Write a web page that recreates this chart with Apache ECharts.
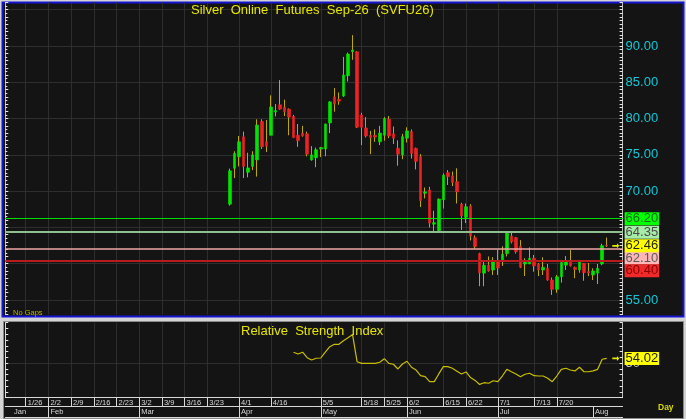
<!DOCTYPE html>
<html>
<head>
<meta charset="utf-8">
<script src="https://cdn.jsdelivr.net/npm/echarts@6/dist/echarts.min.js"></script>
<style>
html,body{margin:0;padding:0;background:#d4d4d4;}
#c{width:686px;height:419px;}
</style>
</head>
<body>
<div id="c"></div>
<script>
// ---------- data ----------
const openP = [68.2, 73.15, 74.75, 77.5, 72.6, 73.4, 74.3, 79.6, 76.8, 77.7,
  80.9, 81.9, 81.55, 81.3, 80.3, 77.7, 78.0, 77.9, 74.3, 74.6,
  75.8, 75.8, 79.4, 83.0, 82.65, 83.1, 85.9, 89.2, 89.2, 80.5,
  78.7, 77.7, 77.7, 76.8, 77.7, 79.9, 77.9, 75.9, 75.0, 77.3,
  78.2, 75.9, 74.75, 69.7, 70.15, 65.45, 64.55, 68.8, 72.55, 72.1,
  71.3, 68.2, 66.4, 67.95, 63.6, 61.4, 58.7, 59.8, 59.13, 60.4,
  60.4, 61.4, 63.8, 63.6, 62.4, 59.95, 59.96, 60.75, 59.96, 59.13,
  59.36, 57.75, 56.47, 58.2, 59.8, 60.4, 59.5, 59.13, 60.05, 58.9,
  58.45, 58.7, 59.96, 62.55];
const closeP = [72.8, 75.2, 76.8, 73.4, 73.2, 75.0, 79.1, 76.1, 76.2, 81.6,
  81.1, 81.3, 80.95, 80.2, 77.4, 76.95, 77.6, 75.1, 75.0, 75.7,
  76.0, 79.25, 82.3, 82.0, 82.4, 86.0, 88.9, 89.45, 78.8, 78.8,
  77.6, 77.4, 77.45, 78.0, 80.0, 77.6, 77.3, 75.1, 77.5, 78.3,
  75.2, 74.1, 68.7, 69.9, 65.6, 65.65, 68.9, 72.2, 72.0, 71.2,
  69.9, 66.6, 67.85, 63.8, 62.35, 58.75, 59.8, 59.0, 60.25, 59.4,
  61.3, 64.2, 63.0, 61.65, 59.5, 60.4, 60.75, 59.7, 59.13, 59.5,
  57.75, 56.47, 58.2, 60.15, 60.4, 59.7, 59.2, 60.27, 58.76, 58.7,
  59.0, 59.36, 62.5, 62.46];
const lowP = [68.0, 71.8, 73.4, 71.8, 71.9, 72.9, 72.0, 75.8, 75.4, 77.7,
  80.3, 81.2, 80.35, 77.7, 77.3, 76.1, 77.5, 74.8, 74.2, 73.3,
  74.7, 74.8, 78.0, 80.95, 81.9, 83.0, 85.1, 88.1, 78.7, 76.35,
  77.4, 75.1, 76.8, 76.35, 76.95, 77.3, 76.5, 73.5, 74.4, 76.7,
  74.5, 73.0, 67.8, 69.0, 65.0, 64.4, 64.4, 67.6, 70.85, 70.7,
  68.3, 64.65, 65.6, 63.2, 62.1, 56.9, 56.9, 58.9, 58.45, 58.45,
  59.7, 61.0, 62.8, 61.4, 59.4, 58.3, 59.96, 58.9, 58.3, 58.45,
  57.65, 55.7, 56.0, 57.4, 59.13, 59.6, 58.0, 58.76, 57.65, 58.3,
  57.75, 57.2, 59.8, 62.3];
const highP = [73.1, 75.5, 77.6, 78.2, 75.3, 75.5, 79.9, 79.9, 79.8, 83.2,
  82.0, 85.3, 82.6, 81.4, 80.5, 79.25, 79.0, 78.2, 76.2, 76.0,
  76.1, 79.3, 82.4, 84.2, 83.6, 88.5, 89.1, 91.5, 89.3, 80.8,
  80.2, 78.3, 78.5, 79.0, 80.2, 80.35, 78.9, 77.0, 77.9, 78.8,
  78.5, 76.0, 75.1, 70.5, 70.6, 67.3, 69.0, 72.45, 72.9, 72.7,
  73.15, 68.4, 68.3, 68.2, 63.9, 61.5, 60.25, 61.0, 60.9, 61.9,
  62.4, 64.4, 64.4, 63.7, 63.25, 60.75, 62.25, 61.2, 60.1, 60.88,
  59.96, 58.1, 58.45, 60.4, 61.05, 61.9, 59.6, 60.4, 60.1, 60.1,
  59.36, 59.96, 62.75, 63.6];
const rsiVals = [59.4, 57.9, 59.4, 54.7, 52.7, 54.2, 54.4, 59.5, 64.2, 66.3,
  66.3, 69.4, 72.0, 74.8, 51.2, 49.8, 49.8, 49.8, 49.8, 50.7,
  53.8, 49.8, 49.0, 44.9, 49.2, 51.6, 46.4, 44.0, 39.1, 38.2,
  33.9, 33.9, 40.6, 46.9, 46.9, 45.5, 43.0, 40.5, 42.3, 37.5,
  35.0, 31.5, 33.0, 32.5, 34.7, 33.9, 38.8, 44.6, 42.5, 40.6,
  38.2, 40.3, 41.2, 39.1, 38.8, 38.8, 36.8, 33.9, 38.8, 44.6,
  45.5, 44.0, 43.2, 46.4, 42.5, 42.5, 43.2, 44.6, 53.3, 54.02];
const levelVals = [66.20, 64.35, 62.10, 60.40];
const lastPrice = 62.46;
const lastRsi = 54.02;
const dateTickIdx = [4, 9, 14, 19, 24, 29, 34, 39, 44, 51, 58, 69, 78, 83, 88, 96, 101, 108, 116, 121];
const dateTickText = ['1/26', '2/2', '2/9', '2/16', '2/23', '3/2', '3/9', '3/16', '3/23', '4/1', '4/16', '5/5', '5/18', '5/25', '6/2', '6/15', '6/22', '7/1', '7/13', '7/20'];
const monthIdx = [1, 9, 29, 51, 69, 88, 108, 129];
const monthText = ['Jan', 'Feb', 'Mar', 'Apr', 'May', 'Jun', 'Jul', 'Aug'];
const priceLabelVals = [55, 70, 75, 80, 85, 90];
const rsiLabelVals = [50];
const categoryCount = 136;
const firstCandleIdx = 49;
const rsiStartOffset = 14;

// ---------- styles ----------
const FONT = 'Liberation Sans';
const WICK = '#bda900';
const UP = '#00e400';
const DOWN = '#ee2222';
const GRID = '#2e2e2e';
const levelStyles = [
  { line: '#00dd00', width: 1, bg: '#00ff00', fg: '#1f6a1f', shift: 0 },
  { line: '#8fbf8f', width: 2, bg: '#a6eca6', fg: '#4a4a4a', shift: 0 },
  { line: '#f2a6a6', width: 1.5, bg: '#ffb6b6', fg: '#5a5a5a', shift: 9.5 },
  { line: '#b81c1c', width: 2, bg: '#f02a2a', fg: '#8a0000', shift: 10 }
];
const priceGridColors = ['transparent', 'transparent', GRID, 'transparent', 'transparent'];
const rsiGridColors = ['transparent', 'transparent', 'transparent', 'transparent', 'transparent', 'transparent', GRID,
  'transparent', 'transparent', 'transparent', 'transparent', 'transparent', 'transparent', 'transparent'];
const ARROW = 'path://M0,2L6,2L6,0L9,3L6,6L6,4L0,4Z';

// ---------- build ----------
const categories = Array.from({ length: categoryCount }, (_, i) => String(i));
const candleCat = openP.map((_, k) => categories[firstCandleIdx + k]);
const wickData = openP.map((o, k) => [candleCat[k], o, closeP[k], lowP[k], highP[k]]);
const bodyData = openP.map((o, k) => [candleCat[k], o, closeP[k], Math.min(o, closeP[k]), Math.max(o, closeP[k])]);
const rsiData = rsiVals.map((v, j) => [candleCat[rsiStartOffset + j], v]);
const arrowCat = categories[firstCandleIdx + openP.length + 1];
const isDateTick = i => dateTickIdx.indexOf(i) >= 0;
const monthTickIdx = monthIdx.slice(1);

function boxLabel(bg, fg, shift) {
  return {
    show: true, position: 'end', distance: 2,
    formatter: p => '{b|' + Number(p.value).toFixed(2) + '}',
    padding: [shift * 2, 0, 0, 0],
    rich: { b: { backgroundColor: bg, color: fg, fontSize: 13, fontFamily: FONT, lineHeight: 12, padding: [0, 1, 0, 1] } }
  };
}

const priceMarkData = levelVals.map((v, i) => ({
  yAxis: v,
  lineStyle: { color: levelStyles[i].line, width: levelStyles[i].width, type: 'solid' },
  label: boxLabel(levelStyles[i].bg, levelStyles[i].fg, levelStyles[i].shift)
}));
priceMarkData.push({ yAxis: lastPrice, lineStyle: { color: 'transparent', width: 0 }, label: boxLabel('#ffff00', '#222222', 0) });

const axisLineStyle = { color: '#d8d8d8', width: 1 };
const tickStyle = { color: '#e8e8e8', width: 1 };

const option = {
  backgroundColor: '#d4d4d4',
  animation: false,
  graphic: {
    elements: [
      { type: 'rect', z: -100, silent: true, shape: { x: 2.5, y: 2.5, width: 681, height: 314 },
        style: { fill: '#141414', stroke: '#1414d2', lineWidth: 2 } },
      { type: 'rect', z: -100, silent: true, shape: { x: 3.5, y: 321.5, width: 680, height: 97 },
        style: { fill: '#141414', stroke: '#8a8a8a', lineWidth: 1 } }
    ]
  },
  title: [
    { text: 'Silver  Online  Futures  Sep-26  (SVFU26)', left: 191, top: 4, padding: 0,
      textStyle: { color: '#e6e600', fontSize: 13, fontWeight: 'normal', fontFamily: FONT } },
    { text: 'Relative  Strength  Index', left: 241, top: 325, padding: 0,
      textStyle: { color: '#e6e600', fontSize: 13, fontWeight: 'normal', fontFamily: FONT } },
    { text: 'No Gaps', left: 13, top: 309, padding: 0,
      textStyle: { color: '#b4b400', fontSize: 7.5, fontWeight: 'normal', fontFamily: FONT } },
    { text: 'Day', left: 658, top: 403, padding: 0,
      textStyle: { color: '#d8d800', fontSize: 8.5, fontWeight: 'bold', fontFamily: FONT } }
  ],
  grid: [
    { left: 5.3, right: 63.4, top: 2.46, height: 312.05 },
    { left: 5.3, right: 63.4, top: 322.7, height: 75 }
  ],
  xAxis: [
    { type: 'category', gridIndex: 0, data: categories, boundaryGap: true,
      axisLine: { show: false }, axisTick: { show: false }, axisLabel: { show: false },
      splitLine: { show: true, interval: (i) => isDateTick(i), alignWithLabel: true, lineStyle: { color: GRID, width: 1 } } },
    { type: 'category', gridIndex: 1, data: categories, boundaryGap: true, position: 'bottom',
      axisLine: { show: true, lineStyle: axisLineStyle },
      axisTick: { show: true, alignWithLabel: true, interval: (i) => isDateTick(i), length: 9, lineStyle: axisLineStyle },
      axisLabel: { show: true, interval: (i) => isDateTick(i), formatter: (v) => { const j = dateTickIdx.indexOf(Number(v)); return j >= 0 ? dateTickText[j] : ''; },
        align: 'left', margin: 1, padding: [0, 0, 0, 2], fontSize: 7.5, color: '#d8d8d8', fontFamily: FONT },
      splitLine: { show: true, interval: (i) => isDateTick(i), alignWithLabel: true, lineStyle: { color: GRID, width: 1 } } },
    { type: 'category', gridIndex: 1, data: categories, boundaryGap: true, position: 'bottom', offset: 9,
      axisLine: { show: true, lineStyle: axisLineStyle },
      axisTick: { show: true, alignWithLabel: true, interval: (i) => monthTickIdx.indexOf(i) >= 0, length: 10.5, lineStyle: axisLineStyle },
      axisLabel: { show: true, interval: (i) => monthIdx.indexOf(i) >= 0, formatter: (v) => { const j = monthIdx.indexOf(Number(v)); return j >= 0 ? monthText[j] : ''; },
        align: 'left', margin: 1.5, padding: [0, 0, 0, 2], fontSize: 7.5, color: '#d8d8d8', fontFamily: FONT },
      splitLine: { show: false } },
    { type: 'category', gridIndex: 1, data: categories, boundaryGap: true, position: 'bottom', offset: 19.5,
      axisLine: { show: true, lineStyle: axisLineStyle }, axisTick: { show: false }, axisLabel: { show: false }, splitLine: { show: false } }
  ],
  yAxis: [
    { type: 'value', gridIndex: 0, position: 'right', min: 53, max: 96, interval: 1,
      axisLine: { show: true, lineStyle: { color: '#bdbdbd' } },
      axisTick: { show: true, inside: true, length: 3, lineStyle: tickStyle },
      minorTick: { show: true, splitNumber: 2, length: 3, lineStyle: tickStyle },
      axisLabel: { show: true, margin: 3, color: '#14c8d8', fontSize: 13, fontFamily: FONT,
        formatter: (v) => priceLabelVals.indexOf(Math.round(v)) >= 0 && Math.abs(v - Math.round(v)) < 1e-6 ? v.toFixed(2) : '' },
      splitLine: { show: true, lineStyle: { color: priceGridColors, width: 1 } }, minorSplitLine: { show: false } },
    { type: 'value', gridIndex: 0, position: 'left', min: 53, max: 96, interval: 1,
      axisLine: { show: true, lineStyle: { color: '#bdbdbd' } },
      axisTick: { show: true, inside: true, length: 3, lineStyle: tickStyle },
      minorTick: { show: true, splitNumber: 2, length: 2, lineStyle: tickStyle },
      axisLabel: { show: false }, splitLine: { show: false } },
    { type: 'value', gridIndex: 1, position: 'right', min: 20, max: 85, interval: 5,
      axisLine: { show: true, lineStyle: { color: '#bdbdbd' } },
      axisTick: { show: true, inside: true, length: 3, lineStyle: tickStyle },
      axisLabel: { show: true, margin: 3, color: '#c8c8c8', fontSize: 13, fontFamily: FONT,
        formatter: (v) => rsiLabelVals.indexOf(v) >= 0 ? String(v) : '' },
      splitLine: { show: true, lineStyle: { color: rsiGridColors, width: 1 } } },
    { type: 'value', gridIndex: 1, position: 'left', min: 20, max: 85, interval: 5,
      axisLine: { show: true, lineStyle: { color: '#d8d8d8' } },
      axisTick: { show: true, inside: true, length: 3, lineStyle: tickStyle },
      axisLabel: { show: false }, splitLine: { show: false } }
  ],
  series: [
    { type: 'candlestick', name: 'wick', xAxisIndex: 0, yAxisIndex: 0, data: wickData,
      encode: { x: 0, y: [1, 2, 3, 4] }, barWidth: 1, silent: true,
      itemStyle: { color: 'transparent', color0: 'transparent', borderColor: WICK, borderColor0: WICK, borderColorDoji: WICK, borderWidth: 1 } },
    { type: 'candlestick', name: 'body', xAxisIndex: 0, yAxisIndex: 0, data: bodyData,
      encode: { x: 0, y: [1, 2, 3, 4] }, barWidth: 3, silent: true,
      itemStyle: { color: UP, color0: DOWN, borderColor: UP, borderColor0: DOWN, borderColorDoji: UP, borderWidth: 0.6 },
      markLine: { silent: true, symbol: ['none', 'none'], animation: false, data: priceMarkData },
      markPoint: { silent: true, symbol: ARROW, symbolSize: [7, 5], label: { show: false },
        itemStyle: { color: '#e8e800' }, data: [{ coord: [arrowCat, lastPrice] }] } },
    { type: 'line', name: 'RSI', xAxisIndex: 1, yAxisIndex: 2, data: rsiData, symbol: 'none', silent: true,
      lineStyle: { color: '#c8be00', width: 1.2 },
      markLine: { silent: true, symbol: ['none', 'none'], animation: false,
        data: [{ yAxis: lastRsi, lineStyle: { color: 'transparent', width: 0 }, label: boxLabel('#ffff00', '#222222', 0) }] },
      markPoint: { silent: true, symbol: ARROW, symbolSize: [7, 5], label: { show: false },
        itemStyle: { color: '#e8e800' }, data: [{ coord: [arrowCat, lastRsi] }] } }
  ]
};

const chart = echarts.init(document.getElementById('c'), null, { renderer: 'canvas', width: 686, height: 419 });
chart.setOption(option);
</script>
</body>
</html>
